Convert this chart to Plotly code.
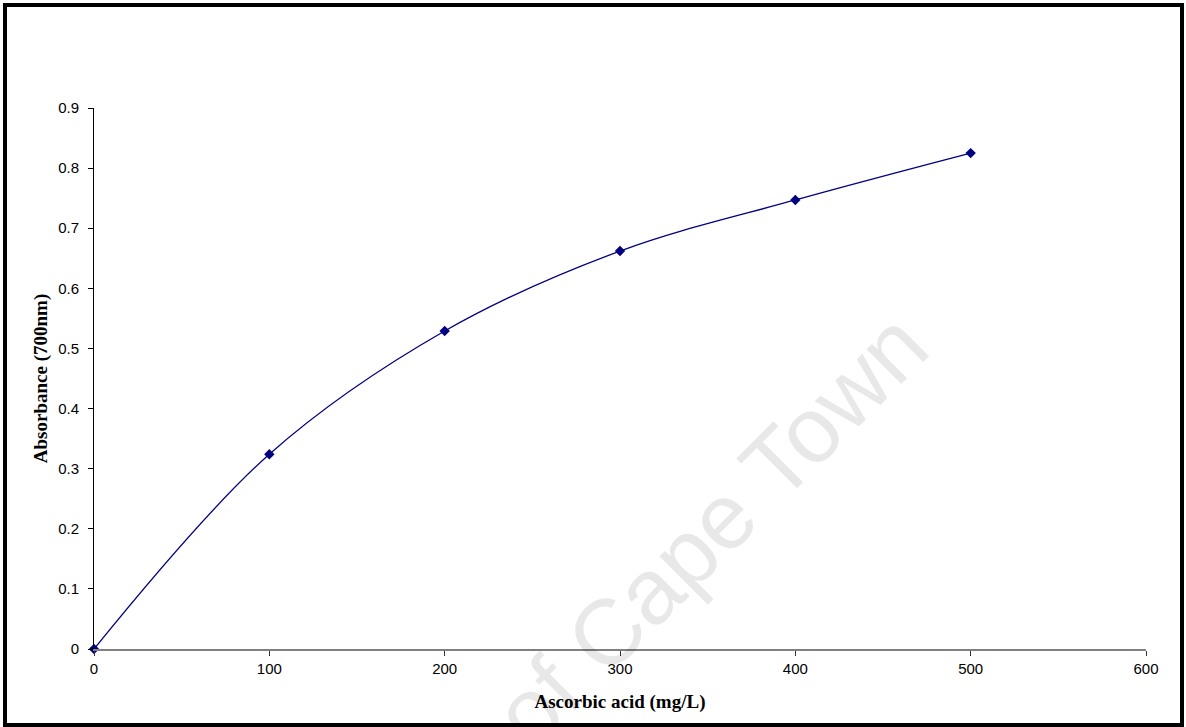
import plotly.graph_objects as go

# Ascorbic acid standard curve (reducing power assay)
concentration_mg_per_l = [0, 100, 200, 300, 400, 500]
absorbance_700nm = [0.0, 0.324, 0.529, 0.662, 0.747, 0.825]

x_tick_values = [0, 100, 200, 300, 400, 500, 600]
y_tick_values = [0, 0.1, 0.2, 0.3, 0.4, 0.5, 0.6, 0.7, 0.8, 0.9]

W, H = 1186, 727
L, R, T, B = 94, 40, 108, 78
plot_w = W - L - R
plot_h = H - T - B


def px_to_paper(px, py):
    return (px - L) / plot_w, (H - B - py) / plot_h


fig = go.Figure()
fig.add_trace(
    go.Scatter(
        x=concentration_mg_per_l,
        y=absorbance_700nm,
        mode="lines+markers",
        line=dict(color="#000080", width=1.3, shape="spline", smoothing=1.0),
        marker=dict(symbol="diamond", size=8, color="#000080"),
        showlegend=False,
        cliponaxis=False,
    )
)

tick_font = dict(family="Liberation Sans, Arial, sans-serif", size=15, color="#000000")
title_font = dict(family="Liberation Serif, Times New Roman, serif", size=19, color="#000000")

fig.update_xaxes(
    range=[0, 600],
    tickvals=x_tick_values,
    ticks="outside",
    ticklen=5,
    tickwidth=1,
    tickcolor="#333333",
    showline=True,
    linecolor="#808080",
    linewidth=2,
    showgrid=False,
    zeroline=False,
    tickfont=tick_font,
    title=dict(text="<b>Ascorbic acid (mg/L)</b>", font=title_font, standoff=19),
    automargin=False,
)
fig.update_yaxes(
    range=[0, 0.9],
    tickvals=y_tick_values,
    ticks="outside",
    ticklen=5,
    tickwidth=1,
    tickcolor="#000000",
    showline=True,
    linecolor="#000000",
    linewidth=1,
    showgrid=False,
    zeroline=False,
    tickfont=tick_font,
    ticklabelstandoff=6,
    title=dict(text="<b>Absorbance (700nm)</b>", font=title_font, standoff=5),
    automargin=False,
)

# Outer frame around the whole chart
fx0, fy0 = px_to_paper(5, 725)
fx1, fy1 = px_to_paper(1182, 5)
fig.add_shape(
    type="rect",
    xref="paper",
    yref="paper",
    x0=fx0,
    y0=fy0,
    x1=fx1,
    y1=fy1,
    line=dict(color="#000000", width=4),
    layer="above",
)

# Diagonal watermark
wx, wy = px_to_paper(710, 530)
fig.add_annotation(
    text="of Cape Town",
    xref="paper",
    yref="paper",
    x=wx,
    y=wy,
    xanchor="center",
    yanchor="middle",
    textangle=-45,
    showarrow=False,
    font=dict(family="Liberation Sans, Arial, sans-serif", size=93, color="rgba(0,0,0,0.09)"),
)

fig.update_layout(
    width=W,
    height=H,
    margin=dict(l=L, r=R, t=T, b=B),
    paper_bgcolor="#ffffff",
    plot_bgcolor="#ffffff",
)

fig.write_html("out.html")
